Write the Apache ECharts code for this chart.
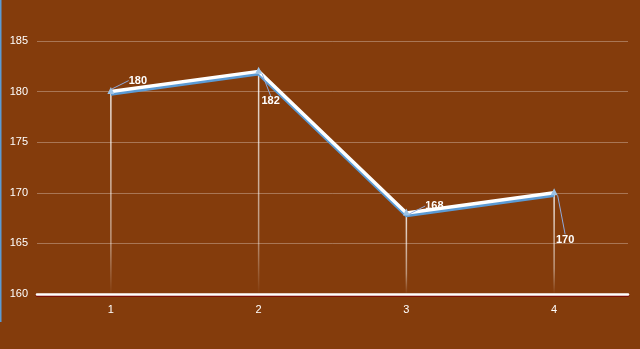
<!DOCTYPE html>
<html><head><meta charset="utf-8">
<script src="https://cdn.jsdelivr.net/npm/echarts@6/dist/echarts.min.js"></script>
<style>html,body{margin:0;padding:0;background:#843C0C}#c{width:640px;height:349px}</style>
</head><body><div id="c"></div>
<script>
const categories = ['1', '2', '3', '4'];
const values = [180, 182, 168, 170];
const yTicks = [160, 165, 170, 175, 180, 185];

const labelOffsets = [[27, -11], [12, 30], [28, -7], [11, 47]];
const chart = echarts.init(document.getElementById('c'), null, {renderer: 'canvas'});
const font = 'Liberation Sans';
chart.setOption({
  backgroundColor: '#843C0C',
  animation: false,
  grid: {left: 37, right: 12, top: 41, bottom: 55},
  xAxis: {
    type: 'category', data: categories, boundaryGap: true,
    axisLine: {lineStyle: {color: '#ffffff', width: 2.5, shadowColor: '#7a0000', shadowOffsetY: 1}},
    axisTick: {show: false},
    axisLabel: {color: '#ffffff', fontSize: 11, fontFamily: font, margin: 10}
  },
  yAxis: {
    type: 'value', min: yTicks[0], max: yTicks[yTicks.length - 1], interval: 5,
    axisLine: {show: false}, axisTick: {show: false},
    axisLabel: {color: '#ffffff', fontSize: 11, fontFamily: font, margin: 9, align: 'right'},
    splitLine: {lineStyle: {color: 'rgba(255,255,255,0.3)', width: 1}}
  },
  graphic: [{type: 'rect', shape: {x: 0, y: 0, width: 1.5, height: 322}, style: {fill: '#5B9BD5'}}],
  series: [
    {
      type: 'custom', z: 1,
      data: values.map((v, i) => [i, v]),
      renderItem: function (params, api) {
        const top = api.coord([api.value(0), api.value(1)]);
        const bot = api.coord([api.value(0), yTicks[0]]);
        return {
          type: 'rect',
          shape: {x: top[0] - 0.75, y: top[1], width: 1.5, height: bot[1] - top[1]},
          style: {fill: new echarts.graphic.LinearGradient(0, 0, 0, 1, [
            {offset: 0, color: 'rgba(255,255,255,0.85)'},
            {offset: 0.75, color: 'rgba(255,255,255,0.45)'},
            {offset: 1, color: 'rgba(255,255,255,0)'}
          ])}
        };
      }
    },
    {
      type: 'line', z: 3,
      data: values,
      symbol: 'triangle', symbolSize: 7, showSymbol: true, symbolOffset: [0, -1],
      itemStyle: {color: '#9DC3E6'},
      lineStyle: {color: '#ffffff', width: 3.5, shadowColor: '#5B9BD5', shadowOffsetY: 2.5, shadowBlur: 0},
      label: {
        show: true, position: 'top', color: '#ffffff', fontSize: 11, fontWeight: 'bold', fontFamily: font
      },
      labelLine: {show: true, showAbove: true, lineStyle: {color: '#8FAADC', width: 1}},
      labelLayout: function (params) {
        const cx = params.rect.x + params.rect.width / 2;
        const cy = params.rect.y + params.rect.height / 2 + 1;
        const o = labelOffsets[params.dataIndex];
        return {x: cx + o[0], y: cy + o[1], align: 'center', verticalAlign: 'middle'};
      }
    }
  ]
});
</script></body></html>
